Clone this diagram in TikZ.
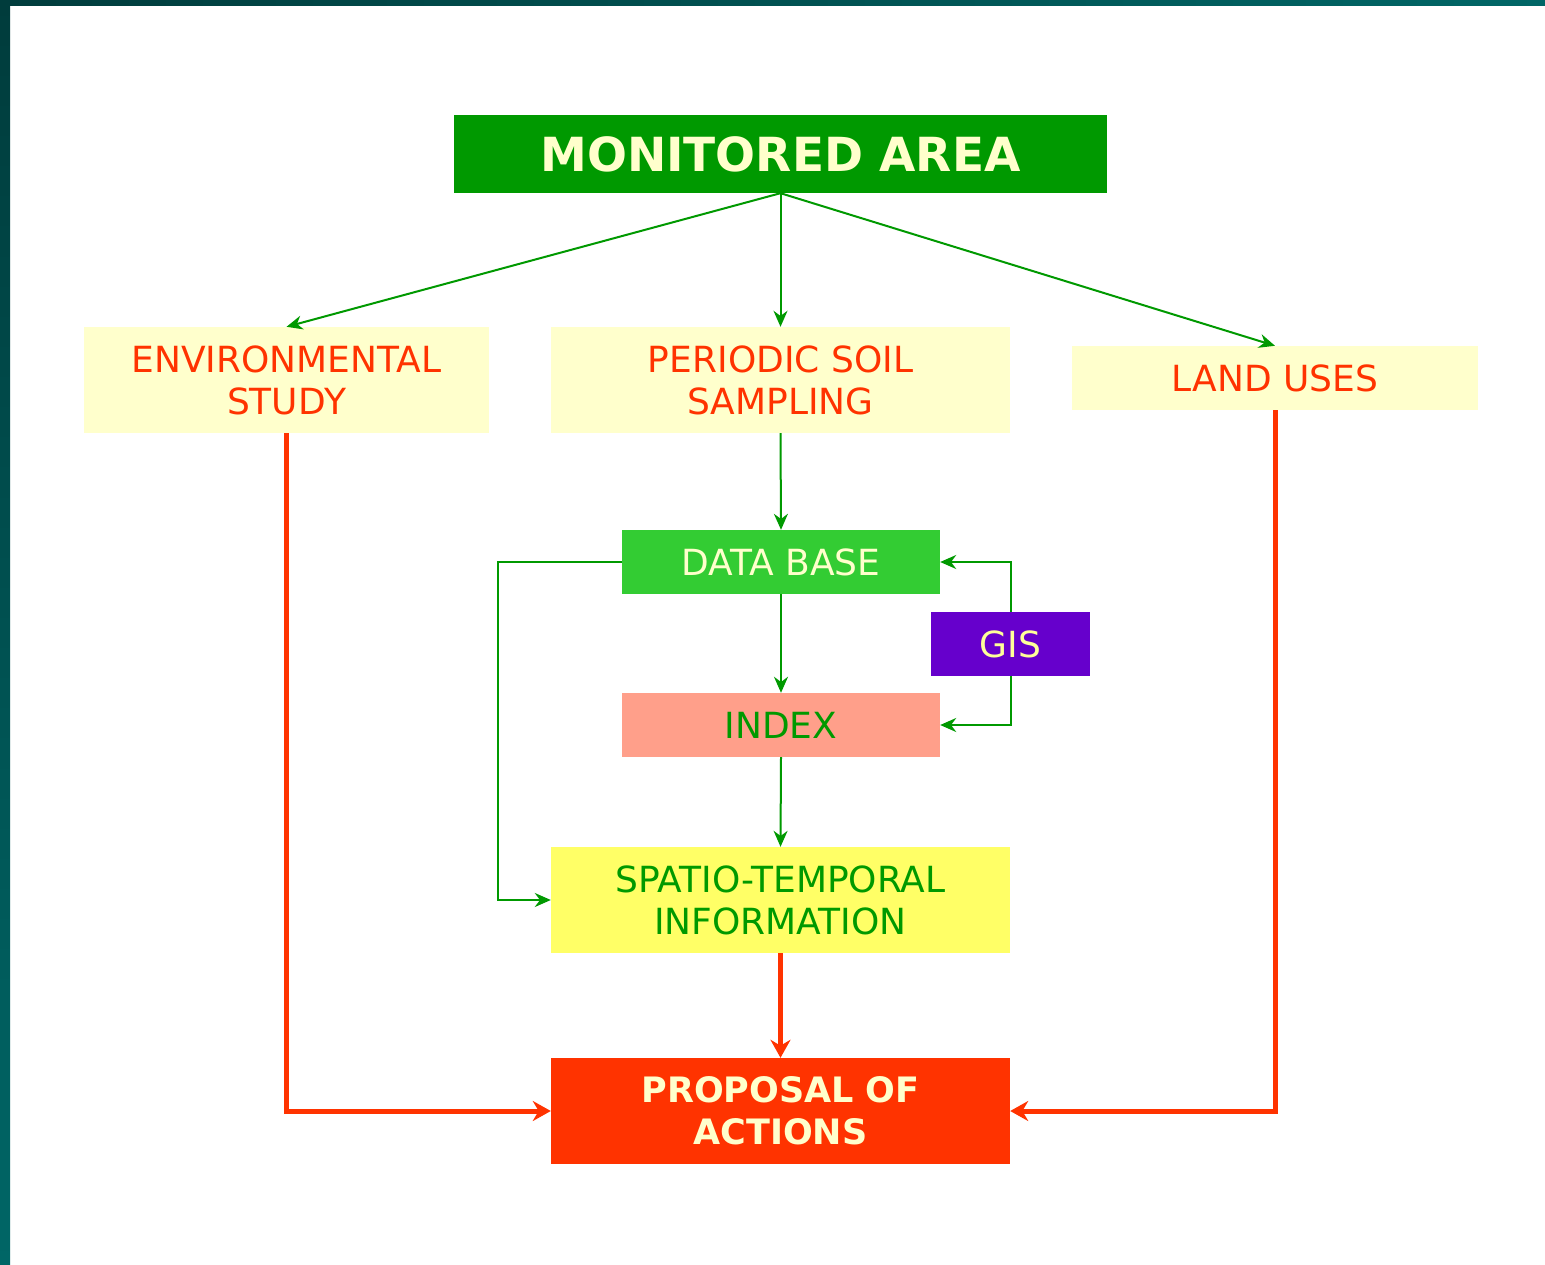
\documentclass[tikz,border=0pt]{standalone}
\usepackage{fontspec}
\setmainfont{DejaVu Sans}
\usetikzlibrary{arrows.meta}
\definecolor{mgreen}{HTML}{009900}
\definecolor{lgreen}{HTML}{33CC33}
\definecolor{cream}{HTML}{FFFFCC}
\definecolor{lyellow}{HTML}{FFFF66}
\definecolor{mred}{HTML}{FF3300}
\definecolor{salmon}{HTML}{FF9F8A}
\definecolor{purp}{HTML}{6600CC}
\definecolor{gtext}{HTML}{FFFF99}
\definecolor{framedark}{HTML}{003C3C}
\definecolor{framelight}{HTML}{006666}
\tikzset{
  box/.style={rectangle, inner sep=0pt, align=center, font=\fontsize{36}{42}\selectfont},
  garrow/.style={draw=mgreen, line width=2pt, -{Stealth[length=16pt,width=14pt]}},
  rarrow/.style={draw=mred, line width=5pt, -{Stealth[length=18pt,width=20pt]}},
}
\begin{document}
\begin{tikzpicture}[x=1pt,y=-1pt]
\useasboundingbox (0,0) rectangle (1545,1265);
\fill[white] (0,0) rectangle (1545,1265);
\shade[left color=framedark, right color=framelight] (0,0) rectangle (1545,6);
\shade[top color=framedark, bottom color=framelight] (0,0) rectangle (10,1265);

\node[box, fill=mgreen, text=cream, minimum width=653pt, minimum height=78pt,
  font=\fontsize{47}{56}\selectfont\bfseries] (ma) at (780.5,154) {MONITORED AREA};
\node[box, fill=cream, text=mred, minimum width=405pt, minimum height=106pt] (env) at (286.5,380) {ENVIRONMENTAL\\STUDY};
\node[box, fill=cream, text=mred, minimum width=459pt, minimum height=106pt] (pss) at (780.5,380) {PERIODIC SOIL\\SAMPLING};
\node[box, fill=cream, text=mred, minimum width=406pt, minimum height=64pt] (lu) at (1275,378) {LAND USES};
\node[box, fill=lgreen, text=cream, minimum width=318pt, minimum height=64pt] (db) at (781,562) {DATA BASE};
\node[box, fill=purp, text=gtext, minimum width=159pt, minimum height=64pt] (gis) at (1010.5,644) {GIS};
\node[box, fill=salmon, text=mgreen, minimum width=318pt, minimum height=64pt] (idx) at (781,725) {INDEX};
\node[box, fill=lyellow, text=mgreen, minimum width=459pt, minimum height=106pt] (sti) at (780.5,900) {SPATIO-TEMPORAL\\INFORMATION};
\node[box, fill=mred, text=cream, minimum width=459pt, minimum height=106pt,
  font=\fontsize{35}{42}\selectfont\bfseries] (pa) at (780.5,1111) {PROPOSAL OF\\ACTIONS};

\coordinate (dbl) at (498,562);

\draw[garrow] (ma.south) -- (env.north);
\draw[garrow] (ma.south) -- (pss.north);
\draw[garrow] (ma.south) -- (lu.north);
\draw[garrow] (pss.south) -- (db.north);
\draw[garrow] (db.south) -- (idx.north);
\draw[garrow] (idx.south) -- (sti.north);
\draw[garrow] (db.west) -- (dbl) |- (sti.west);
\draw[garrow] (gis.north) |- (db.east);
\draw[garrow] (gis.south) |- (idx.east);

\draw[rarrow] (env.south) |- (pa.west);
\draw[rarrow] (lu.south) |- (pa.east);
\draw[rarrow] (sti.south) -- (pa.north);
\end{tikzpicture}
\end{document}
